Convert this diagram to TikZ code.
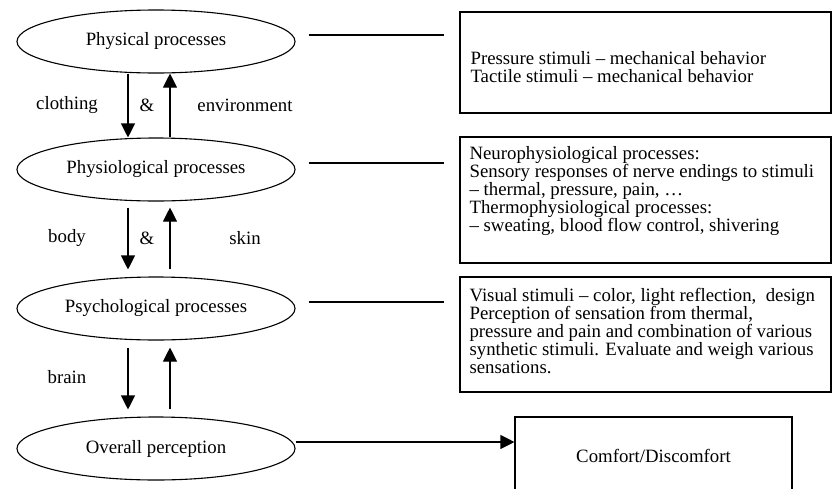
\documentclass[tikz,border=0pt]{standalone}
\usepackage{fontspec}
\setmainfont{Liberation Serif}
\usetikzlibrary{shapes.geometric,arrows.meta}

\begin{document}
\begin{tikzpicture}[x=1pt,y=-1pt,line width=1.1pt,
            >={Triangle[length=14pt,width=14pt]},
            every node/.style={font=\fontsize{18.8}{18}\selectfont},
            process/.style={draw,ellipse,minimum width=278pt,minimum height=63pt,inner sep=0pt},
            infobox/.style={draw,rectangle,inner sep=0pt},
            infotext/.style={anchor=north west,align=left,inner sep=0pt},
            link/.style={shorten <=13pt,shorten >=15pt}]
            \useasboundingbox (0,0) rectangle (833,488);

            \node[process] (phys) at (156,41.5) {Physical processes};
            \node[process] (physio) at (156,169.5) {Physiological processes};
            \node[process] (psych) at (156,308.5) {Psychological processes};
            \node[process] (overall) at (156,448.5) {Overall perception};

            \node[infobox,minimum width=371pt,minimum height=101pt] (box_1) at (645.5,62.5) {};
            \node[infobox,minimum width=371pt,minimum height=126pt] (box_2) at (645.5,200) {};
            \node[infobox,minimum width=371pt,minimum height=115pt] (box_3) at (645.5,334.5) {};
            \node[infobox,minimum width=277pt,minimum height=78pt] (box_4) at (653.5,456) {Comfort/Discomfort};

            \node[infotext] (text_1) at (470,51) {Pressure stimuli -- mechanical behavior\\Tactile stimuli -- mechanical behavior};
            \node[infotext] (text_2) at (469,146) {Neurophysiological processes:\\Sensory responses of nerve endings to stimuli\\-- thermal, pressure, pain, …\\Thermophysiological processes:\\-- sweating, blood flow control, shivering};
            \node[infotext] (text_3) at (469,288) {Visual stimuli -- color, light reflection,\ \ design\\Perception of sensation from thermal,\\pressure and pain and combination of various\\synthetic stimuli. Evaluate and weigh various\\sensations.};

            \node (clothing) at (67,105) {clothing};
            \node (and_1) at (147,105) {\&};
            \node (environment) at (245,105) {environment};
            \node (body) at (67,238) {body};
            \node (and_2) at (147,238) {\&};
            \node (skin) at (245,238) {skin};
            \node (brain) at (67,377) {brain};

            \draw[->] ([xshift=-28pt]phys.south) -- ([xshift=-28pt]physio.north);
            \draw[->] ([xshift=14pt]physio.north) -- ([xshift=14pt]phys.south);

            \draw[->] ([xshift=-28pt,yshift=-6pt]physio.south) -- ([xshift=-28pt,yshift=7pt]psych.north);
            \draw[->] ([xshift=14pt,yshift=7pt]psych.north) -- ([xshift=14pt,yshift=-6pt]physio.south);

            \draw[->] ([xshift=-28pt,yshift=-7pt]psych.south) -- ([xshift=-28pt,yshift=7pt]overall.north);
            \draw[->] ([xshift=14pt,yshift=7pt]overall.north) -- ([xshift=14pt,yshift=-7pt]psych.south);

            \coordinate (l_1) at ([yshift=6.5pt]phys.east);
            \coordinate (l_2) at ([yshift=6.5pt]physio.east);
            \coordinate (l_3) at ([yshift=6.5pt]psych.east);
            \coordinate (l_4) at ([yshift=6.5pt]overall.east);

            \draw[link] (l_1) -- (l_1 -| box_1.west);
            \draw[link] (l_2) -- (l_2 -| box_2.west);
            \draw[link] (l_3) -- (l_3 -| box_3.west);
            \draw[->] (l_4) -- (l_4 -| box_4.west);
        \end{tikzpicture}
\end{document}
